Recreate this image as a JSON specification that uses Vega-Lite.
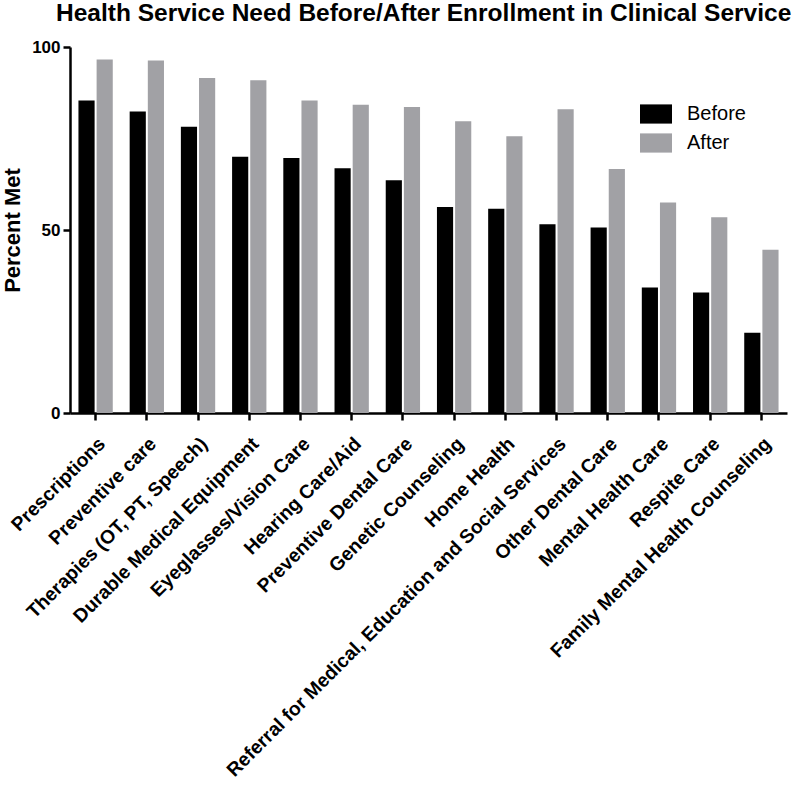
{
  "$schema": "https://vega.github.io/schema/vega-lite/v6.json",
  "autosize": {"type": "none"},
  "padding": {"left": 70, "top": 47, "right": 13, "bottom": 375},
  "width": 717,
  "height": 366,
  "background": "white",
  "title": {
    "text": "Health Service Need Before/After Enrollment in Clinical Service",
    "anchor": "start",
    "frame": "group",
    "dx": -14,
    "offset": 12,
    "font": "Liberation Sans",
    "fontSize": 24.5,
    "fontWeight": "bold",
    "color": "#000000"
  },
  "config": {
    "view": {"stroke": null},
    "axis": {"grid": false, "domainColor": "#000000", "tickColor": "#000000", "labelColor": "#000000", "titleColor": "#000000", "labelFont": "Liberation Sans", "titleFont": "Liberation Sans"}
  },
  "data": {
    "values": [
      {"service": "Prescriptions", "period": "Before", "pct": 85.4},
      {"service": "Prescriptions", "period": "After", "pct": 96.6},
      {"service": "Preventive care", "period": "Before", "pct": 82.4},
      {"service": "Preventive care", "period": "After", "pct": 96.3},
      {"service": "Therapies (OT, PT, Speech)", "period": "Before", "pct": 78.2},
      {"service": "Therapies (OT, PT, Speech)", "period": "After", "pct": 91.5},
      {"service": "Durable Medical Equipment", "period": "Before", "pct": 70.0},
      {"service": "Durable Medical Equipment", "period": "After", "pct": 90.9},
      {"service": "Eyeglasses/Vision Care", "period": "Before", "pct": 69.7},
      {"service": "Eyeglasses/Vision Care", "period": "After", "pct": 85.4},
      {"service": "Hearing Care/Aid", "period": "Before", "pct": 66.9},
      {"service": "Hearing Care/Aid", "period": "After", "pct": 84.2},
      {"service": "Preventive Dental Care", "period": "Before", "pct": 63.6},
      {"service": "Preventive Dental Care", "period": "After", "pct": 83.6},
      {"service": "Genetic Counseling", "period": "Before", "pct": 56.3},
      {"service": "Genetic Counseling", "period": "After", "pct": 79.7},
      {"service": "Home Health", "period": "Before", "pct": 55.8},
      {"service": "Home Health", "period": "After", "pct": 75.6},
      {"service": "Referral for Medical, Education and Social Services", "period": "Before", "pct": 51.6},
      {"service": "Referral for Medical, Education and Social Services", "period": "After", "pct": 83.0},
      {"service": "Other Dental Care", "period": "Before", "pct": 50.7},
      {"service": "Other Dental Care", "period": "After", "pct": 66.7},
      {"service": "Mental Health Care", "period": "Before", "pct": 34.3},
      {"service": "Mental Health Care", "period": "After", "pct": 57.5},
      {"service": "Respite Care", "period": "Before", "pct": 32.9},
      {"service": "Respite Care", "period": "After", "pct": 53.5},
      {"service": "Family Mental Health Counseling", "period": "Before", "pct": 21.9},
      {"service": "Family Mental Health Counseling", "period": "After", "pct": 44.6}
    ]
  },
  "mark": {"type": "bar"},
  "encoding": {
    "x": {
      "field": "service",
      "type": "nominal",
      "sort": null,
      "scale": {"paddingInner": 0.33, "paddingOuter": 0.165},
      "axis": {
        "title": null,
        "labelAngle": -45,
        "labelFontSize": 19.3,
        "labelFontWeight": "bold",
        "labelPadding": 14,
        "labelLimit": 600,
        "domainWidth": 2.5,
        "tickWidth": 2.5,
        "tickSize": 7
      }
    },
    "xOffset": {
      "field": "period",
      "type": "nominal",
      "sort": ["Before", "After"],
      "scale": {"paddingInner": 0.11}
    },
    "y": {
      "field": "pct",
      "type": "quantitative",
      "scale": {"domain": [0, 100], "nice": false},
      "axis": {
        "title": "Percent Met",
        "titleFontSize": 22,
        "titleFontWeight": "bold",
        "titlePadding": 7,
        "values": [0, 50, 100],
        "labelFontSize": 17,
        "labelFontWeight": "bold",
        "labelPadding": 3,
        "domainWidth": 2.5,
        "tickWidth": 2.5,
        "tickSize": 7
      }
    },
    "color": {
      "field": "period",
      "type": "nominal",
      "sort": ["Before", "After"],
      "scale": {"domain": ["Before", "After"], "range": ["#000000", "#a1a1a5"]},
      "legend": {
        "title": null,
        "orient": "none",
        "legendX": 570,
        "legendY": 51,
        "padding": 0,
        "symbolType": "M-1,-0.6H1V0.6H-1Z",
        "symbolSize": 1024,
        "symbolStrokeWidth": 0,
        "symbolOpacity": 1,
        "labelFont": "Liberation Sans",
        "labelFontSize": 20,
        "labelColor": "#000000",
        "labelOffset": 15,
        "rowPadding": 3
      }
    }
  }
}
